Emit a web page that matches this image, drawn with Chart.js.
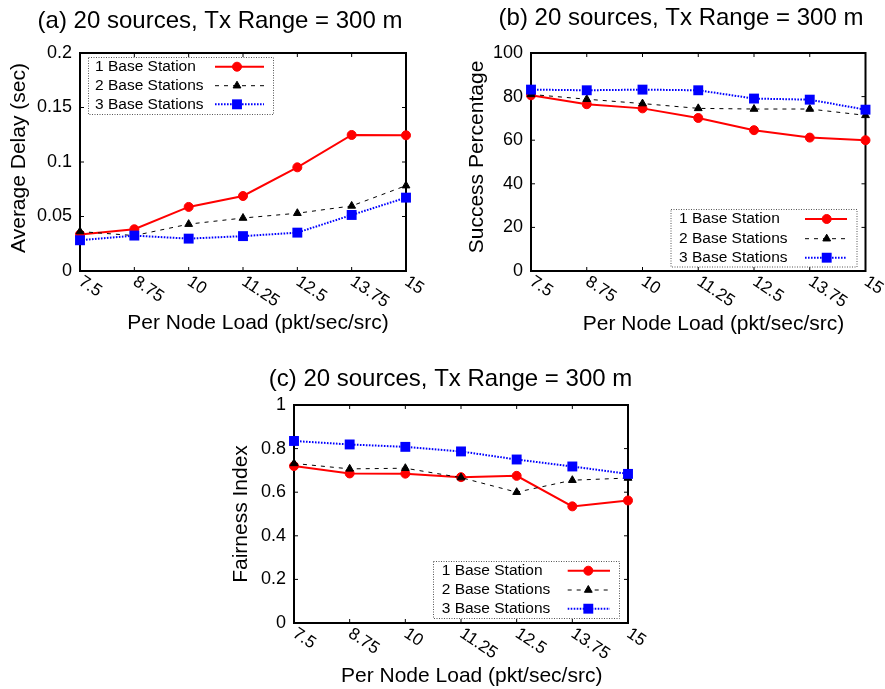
<!DOCTYPE html>
<html>
<head>
<meta charset="utf-8">
<script src="https://cdn.jsdelivr.net/npm/chart.js@4.4.1/dist/chart.umd.min.js"></script>
<style>
  html, body { margin: 0; padding: 0; background: #fff; }
  #page { position: relative; width: 885px; height: 689px; overflow: hidden; background: #fff; }
  #page canvas { position: absolute; }
</style>
</head>
<body>
<div id="page">
  <canvas id="delay" width="440" height="340" style="left:0px;top:0px"></canvas>
  <canvas id="success" width="445" height="340" style="left:440px;top:0px"></canvas>
  <canvas id="fairness" width="440" height="349" style="left:220px;top:340px"></canvas>
</div>
<script>
// Per-node offered load (pkt/sec/src), shared by all three panels
const loads = ['7.5', '8.75', '10', '11.25', '12.5', '13.75', '15'];
const seriesNames = ['1 Base Station', '2 Base Stations', '3 Base Stations'];

// (a) average end-to-end delay, seconds
const delay1 = [0.0335, 0.0383, 0.0588, 0.0688, 0.0951, 0.1248, 0.1245];
const delay2 = [0.0362, 0.0325, 0.0430, 0.0486, 0.0530, 0.0597, 0.0783];
const delay3 = [0.0282, 0.0325, 0.0297, 0.0320, 0.0352, 0.0514, 0.0673];

// (b) delivery success, percent
const success1 = [80.6, 76.5, 74.6, 70.2, 64.6, 61.2, 60.0];
const success2 = [81.0, 78.8, 76.8, 74.6, 74.3, 74.3, 71.4];
const success3 = [83.2, 82.9, 83.2, 82.9, 79.1, 78.6, 74.0];

// (c) Jain's fairness index
const fair1 = [0.720, 0.686, 0.685, 0.669, 0.675, 0.535, 0.562];
const fair2 = [0.732, 0.707, 0.710, 0.667, 0.600, 0.655, 0.665];
const fair3 = [0.835, 0.819, 0.808, 0.787, 0.750, 0.718, 0.684];

// y-axis tick settings per panel
const delayTicks = { min: 0, max: 0.2, step: 0.05 };
const successTicks = { min: 0, max: 100, step: 20 };
const fairTicks = { min: 0, max: 1, step: 0.2 };

const FONT = '"Liberation Sans", Arial, Helvetica, sans-serif';
const INK = '#000';
const TICK_LEN = 4;
const XLABEL_ANGLE = 34 * Math.PI / 180;

// line/marker styles in gnuplot fashion: solid+circle, dashed+triangle, dotted+square
const styles = [
  { borderColor: '#ff0000', borderWidth: 2, borderDash: [], pointStyle: 'circle', pointRadius: 4.5,
    pointBackgroundColor: '#ff0000', pointBorderColor: '#ff0000', pointBorderWidth: 1, order: 3 },
  { borderColor: '#000000', borderWidth: 1, borderDash: [4, 5], pointStyle: 'triangle', pointRadius: 4.5,
    pointBackgroundColor: '#000000', pointBorderColor: '#000000', pointBorderWidth: 1, order: 2 },
  { borderColor: '#0000ff', borderWidth: 2, borderDash: [1.6, 1.4], pointStyle: 'rect', pointRadius: 7,
    pointBackgroundColor: '#0000ff', pointBorderColor: '#0000ff', pointBorderWidth: 0, order: 1 }
];

function makeDatasets(arrays) {
  return arrays.map((data, i) => Object.assign({
    label: seriesNames[i],
    data: data,
    tension: 0,
    fill: false,
    clip: false
  }, styles[i]));
}

function drawMarker(ctx, ds, x, y) {
  const r = ds.pointRadius;
  ctx.save();
  ctx.setLineDash([]);
  ctx.fillStyle = ds.pointBackgroundColor;
  ctx.strokeStyle = ds.pointBorderColor;
  ctx.lineWidth = ds.pointBorderWidth;
  ctx.beginPath();
  if (ds.pointStyle === 'circle') {
    ctx.arc(x, y, r, 0, Math.PI * 2);
  } else if (ds.pointStyle === 'triangle') {
    let a = 0;
    ctx.moveTo(x + Math.sin(a) * r, y - Math.cos(a) * r);
    a += Math.PI * 2 / 3;
    ctx.lineTo(x + Math.sin(a) * r, y - Math.cos(a) * r);
    a += Math.PI * 2 / 3;
    ctx.lineTo(x + Math.sin(a) * r, y - Math.cos(a) * r);
    ctx.closePath();
  } else {
    const s = r * Math.SQRT1_2;
    ctx.rect(x - s, y - s, 2 * s, 2 * s);
  }
  ctx.fill();
  if (ds.pointBorderWidth > 0) ctx.stroke();
  ctx.restore();
}

// Border, mirrored inward ticks, titles, slanted category labels and boxed key
const decor = {
  id: 'decor',
  beforeDatasetsDraw(chart) {
    const { ctx, chartArea: a, scales: { x, y } } = chart;
    ctx.save();
    ctx.strokeStyle = INK;
    ctx.lineWidth = 1;
    ctx.beginPath();
    y.ticks.forEach((t, i) => {
      const py = y.getPixelForTick(i);
      ctx.moveTo(a.left, py); ctx.lineTo(a.left + TICK_LEN, py);
      ctx.moveTo(a.right, py); ctx.lineTo(a.right - TICK_LEN, py);
    });
    x.ticks.forEach((t, i) => {
      const px = x.getPixelForTick(i);
      ctx.moveTo(px, a.bottom); ctx.lineTo(px, a.bottom - TICK_LEN);
      ctx.moveTo(px, a.top); ctx.lineTo(px, a.top + TICK_LEN);
    });
    ctx.stroke();
    ctx.lineWidth = 2;
    ctx.strokeRect(a.left, a.top, a.right - a.left, a.bottom - a.top);
    ctx.restore();
  },
  afterDatasetsDraw(chart, args, o) {
    const { ctx } = chart;
    const lg = o.legend;
    ctx.save();
    ctx.strokeStyle = '#555';
    ctx.lineWidth = 1;
    ctx.setLineDash([1, 1.5]);
    ctx.strokeRect(lg.box[0] + 0.5, lg.box[1] + 0.5, lg.box[2] - lg.box[0], lg.box[3] - lg.box[1]);
    ctx.setLineDash([]);
    ctx.font = '15.5px ' + FONT;
    ctx.fillStyle = INK;
    ctx.textAlign = 'left';
    ctx.textBaseline = 'middle';
    chart.data.datasets.forEach((ds, i) => {
      const yy = lg.rows[i];
      ctx.fillText(ds.label, lg.textX, yy);
      ctx.save();
      ctx.strokeStyle = ds.borderColor;
      ctx.lineWidth = ds.borderWidth;
      ctx.setLineDash(ds.borderDash);
      ctx.beginPath();
      ctx.moveTo(lg.line[0], yy);
      ctx.lineTo(lg.line[1], yy);
      ctx.stroke();
      ctx.restore();
      drawMarker(ctx, ds, lg.mark, yy);
    });
    ctx.restore();
  },
  afterDraw(chart, args, o) {
    const { ctx, chartArea: a, scales: { x } } = chart;
    ctx.save();
    ctx.fillStyle = INK;
    // panel title
    ctx.font = '24px ' + FONT;
    ctx.textAlign = 'center';
    ctx.textBaseline = 'middle';
    ctx.fillText(o.title.text, o.title.x, o.title.y);
    // axis titles
    ctx.font = '21px ' + FONT;
    ctx.fillText(o.xTitle.text, o.xTitle.x, o.xTitle.y);
    ctx.save();
    ctx.translate(o.yTitle.x, o.yTitle.y);
    ctx.rotate(-Math.PI / 2);
    ctx.fillText(o.yTitle.text, 0, 0);
    ctx.restore();
    // slanted x tick labels
    ctx.font = '17px ' + FONT;
    ctx.textAlign = 'left';
    ctx.textBaseline = 'top';
    x.ticks.forEach((t, i) => {
      const px = x.getPixelForTick(i);
      ctx.save();
      ctx.translate(px + 5, a.bottom + 2);
      ctx.rotate(XLABEL_ANGLE);
      ctx.fillText(x.getLabelForValue(t.value), 0, 0);
      ctx.restore();
    });
    ctx.restore();
  }
};

Chart.defaults.font.family = FONT;
Chart.defaults.color = INK;

function makeChart(id, arrays, ticks, area, deco) {
  const canvas = document.getElementById(id);
  const W = canvas.width, H = canvas.height;
  return new Chart(canvas, {
    type: 'line',
    data: { labels: loads, datasets: makeDatasets(arrays) },
    options: {
      responsive: false,
      maintainAspectRatio: false,
      animation: false,
      events: [],
      layout: { padding: { left: 0, top: area.t, right: W - area.r, bottom: 0 } },
      scales: {
        x: {
          type: 'category',
          offset: false,
          ticks: { display: false },
          grid: { display: false, drawTicks: false },
          border: { display: false },
          afterFit(s) { s.height = H - area.b; }
        },
        y: {
          min: ticks.min,
          max: ticks.max,
          ticks: {
            stepSize: ticks.step,
            color: INK,
            padding: 8,
            font: { size: 18, family: FONT },
            callback: (v) => String(parseFloat(Number(v).toFixed(4)))
          },
          grid: { display: false, drawTicks: false },
          border: { display: false },
          afterFit(s) { s.width = area.l; }
        }
      },
      plugins: {
        legend: { display: false },
        tooltip: { enabled: false },
        title: { display: false },
        decor: deco
      }
    },
    plugins: [decor]
  });
}

const xLabel = 'Per Node Load (pkt/sec/src)';

makeChart('delay', [delay1, delay2, delay3], delayTicks,
  { l: 80, r: 406, t: 53, b: 271 },
  {
    title: { text: '(a) 20 sources, Tx Range = 300 m', x: 220, y: 21 },
    xTitle: { text: xLabel, x: 258, y: 323.5 },
    yTitle: { text: 'Average Delay (sec)', x: 19.5, y: 158 },
    legend: { box: [88, 57, 273, 114], textX: 95, rows: [66.7, 85.7, 104.3], line: [215, 264], mark: 237 }
  });

makeChart('success', [success1, success2, success3], successTicks,
  { l: 91, r: 425.5, t: 53, b: 271 },
  {
    title: { text: '(b) 20 sources, Tx Range = 300 m', x: 241, y: 18.5 },
    xTitle: { text: xLabel, x: 273.5, y: 324 },
    yTitle: { text: 'Success Percentage', x: 37.5, y: 157 },
    legend: { box: [230.5, 209, 416.5, 266.5], textX: 239, rows: [219, 238.7, 257.7], line: [365, 407], mark: 386.7 }
  });

makeChart('fairness', [fair1, fair2, fair3], fairTicks,
  { l: 74, r: 408, t: 65, b: 283 },
  {
    title: { text: '(c) 20 sources, Tx Range = 300 m', x: 230.5, y: 39.2 },
    xTitle: { text: xLabel, x: 251.7, y: 335.8 },
    yTitle: { text: 'Fairness Index', x: 20.8, y: 174 },
    legend: { box: [213, 221, 399, 278], textX: 221.7, rows: [230.7, 250, 268.7], line: [347.7, 390], mark: 368.3 }
  });
</script>
</body>
</html>
